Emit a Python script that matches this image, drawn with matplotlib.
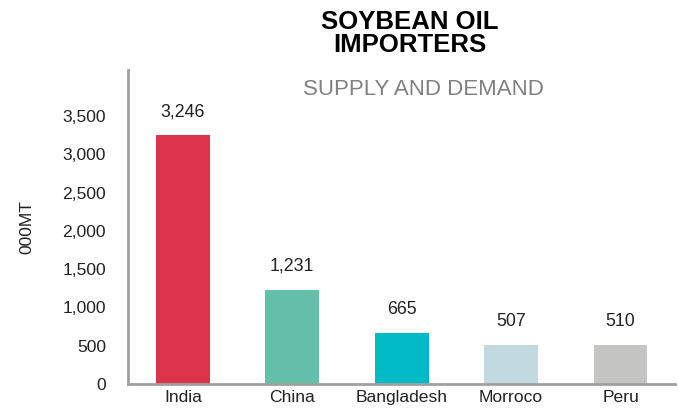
import matplotlib.pyplot as plt

countries = ['India', 'China', 'Bangladesh', 'Morroco', 'Peru']
imports = [3246, 1231, 665, 507, 510]
colors = ['#DB3349', '#63BFAA', '#00BAC6', '#C2D9DF', '#C4C4C3']
yticks = [0, 500, 1000, 1500, 2000, 2500, 3000, 3500]

plt.rcParams['font.family'] = ['Liberation Sans', 'DejaVu Sans']

fig = plt.figure(figsize=(6.78, 4.09), dpi=100)
ax = fig.add_axes([0.189, 0.061, 0.807, 0.768])

bars = ax.bar(range(len(countries)), imports, width=0.49, color=colors)
for b, v in zip(bars, imports):
    ax.annotate(f'{v:,}', (b.get_x() + b.get_width() / 2, b.get_height()),
                xytext=(0, 11), textcoords='offset points',
                ha='center', va='bottom', fontsize=12.8, color='#222222')

ax.set_xlim(-0.5, 4.5)
ax.set_ylim(0, 4100)
ax.set_xticks(range(len(countries)))
ax.set_xticklabels(countries, fontsize=12.6)
ax.set_yticks(yticks)
ax.set_yticklabels([f'{t:,}' for t in yticks], fontsize=12.6)
ax.tick_params(length=0, pad=16, axis='y', colors='#222222')
ax.tick_params(length=0, pad=4, axis='x', colors='#222222')
ax.set_ylabel('000MT', fontsize=12.5, labelpad=20, color='#222222')

for s in ['top', 'right']:
    ax.spines[s].set_visible(False)
for s in ['left', 'bottom']:
    ax.spines[s].set_color('#A0A0A0')
    ax.spines[s].set_linewidth(2)

fig.text(0.605, 0.975, 'SOYBEAN OIL\nIMPORTERS', ha='center', va='top',
         fontsize=18.5, fontweight='bold', linespacing=0.95)
fig.text(0.625, 0.782, 'SUPPLY AND DEMAND', ha='center', va='center',
         fontsize=16, color='#808080')

fig.savefig('out.png', dpi=100)
